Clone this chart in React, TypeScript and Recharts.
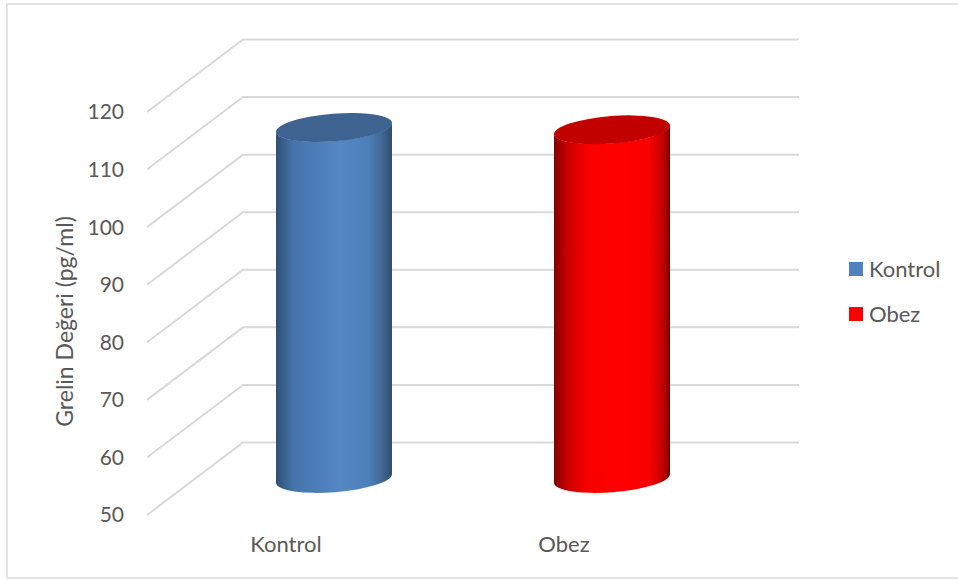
import { BarChart, Bar, XAxis, YAxis, CartesianGrid, Legend } from "recharts"

const categories = ["Kontrol", "Obez"]
const grelinValues = [111, 110.6]
const yTicks = [50, 60, 70, 80, 90, 100, 110, 120]

const TEXT = "#595959"
const GRID = "#d9d9d9"
const FONT = "Lato, Carlito, sans-serif"

// how far the back wall sits from the front plane
const DEPTH_X = 96
const DEPTH_Y = 72.5

const swatches = ["#4f81bd", "#ff0000"]

const chartData = categories.map((name, i) => ({ name, value: grelinValues[i] }))

// floor line + back wall line for one tick
function WallLine({ x1, x2, y1 }: any) {
  const points = `${x1},${y1} ${x1 + DEPTH_X},${y1 - DEPTH_Y} ${x2 + DEPTH_X},${y1 - DEPTH_Y}`
  return <polyline points={points} fill="none" stroke={GRID} strokeWidth={2} />
}

// cylinder centred halfway into the depth
function Cylinder({ x, y, width, height, index }: any) {
  const left = x + DEPTH_X / 2
  const right = left + width
  const top = y - DEPTH_Y / 2
  const bottom = top + height
  const rx = width / 2 + 0.2
  const ry = 13.8
  const tilt = -4.5
  const dy = Math.tan((tilt * Math.PI) / 180) * rx
  const body = `M${left},${top - dy} L${left},${bottom - dy} A${rx},${ry} ${tilt} 0 0 ${right},${bottom + dy} L${right},${top + dy} A${rx},${ry} ${tilt} 0 1 ${left},${top - dy} Z`
  const cx = (left + right) / 2
  return (
    <g>
      <path d={body} fill={`url(#cyl${index})`} />
      <ellipse cx={cx} cy={top} rx={rx} ry={ry} transform={`rotate(${tilt} ${cx} ${top})`} fill={index === 0 ? "#3e6391" : "#c20000"} />
    </g>
  )
}

// rotated axis title, sits a little below the plot's middle
function AxisTitle({ viewBox }: any) {
  const x = viewBox.x - 14
  const y = viewBox.y + viewBox.height / 2 + 8
  return (
    <text x={x} y={y} transform={`rotate(-90 ${x} ${y})`} textAnchor="middle" fill={TEXT} fontSize={23} fontFamily={FONT}>
      Grelin Değeri (pg/ml)
    </text>
  )
}

function ChartLegend() {
  return (
    <div style={{ fontFamily: FONT, fontSize: 22, color: TEXT }}>
      {categories.map((name, i) => (
        <div key={name} style={{ display: "flex", alignItems: "center", height: 45 }}>
          <span style={{ width: 14, height: 14, background: swatches[i], marginRight: 6 }} />
          {name}
        </div>
      ))}
    </div>
  )
}

export default function App() {
  return (
    <div style={{ position: "absolute", left: 0, top: 0, width: 958, height: 580, background: "#fff", overflow: "hidden" }}>
      <div style={{ position: "absolute", left: 6, top: 3, width: 960, height: 576, border: "2px solid #e4e4e4", boxSizing: "border-box" }} />
      <BarChart
        width={958}
        height={580}
        data={chartData}
        barSize={116}
        margin={{ top: 112, right: 146, bottom: 35, left: 87 }}
        style={{ position: "absolute", left: 0, top: 0 }}
      >
        <defs>
          <linearGradient id="cyl0" x1="0" y1="0" x2="1" y2="0">
            <stop offset="0" stopColor="#2f5073" />
            <stop offset="0.15" stopColor="#4574ab" />
            <stop offset="0.55" stopColor="#5587c6" />
            <stop offset="0.8" stopColor="#4d7fba" />
            <stop offset="0.92" stopColor="#3f6690" />
            <stop offset="1" stopColor="#2e4c70" />
          </linearGradient>
          <linearGradient id="cyl1" x1="0" y1="0" x2="1" y2="0">
            <stop offset="0" stopColor="#800000" />
            <stop offset="0.1" stopColor="#c40000" />
            <stop offset="0.28" stopColor="#f80000" />
            <stop offset="0.5" stopColor="#ff0000" />
            <stop offset="0.82" stopColor="#fa0000" />
            <stop offset="0.93" stopColor="#c80000" />
            <stop offset="1" stopColor="#7c0000" />
          </linearGradient>
        </defs>
        <CartesianGrid vertical={false} horizontal={(props: any) => <WallLine {...props} />} />
        <XAxis
          dataKey="name"
          axisLine={false}
          tickLine={false}
          tick={{ fontSize: 22, fill: TEXT, fontFamily: FONT }}
          tickMargin={15}
        />
        <YAxis
          domain={[50, 120]}
          ticks={yTicks}
          width={60}
          axisLine={false}
          tickLine={false}
          tick={{ fontSize: 21, fill: TEXT, fontFamily: FONT }}
          tickMargin={17}
          label={<AxisTitle />}
        />
        <Legend
          layout="vertical"
          align="right"
          verticalAlign="top"
          content={<ChartLegend />}
          wrapperStyle={{ left: 849, top: 246, width: 109 }}
        />
        <Bar dataKey="value" isAnimationActive={false} shape={(props: any) => <Cylinder {...props} />} />
      </BarChart>
    </div>
  )
}
